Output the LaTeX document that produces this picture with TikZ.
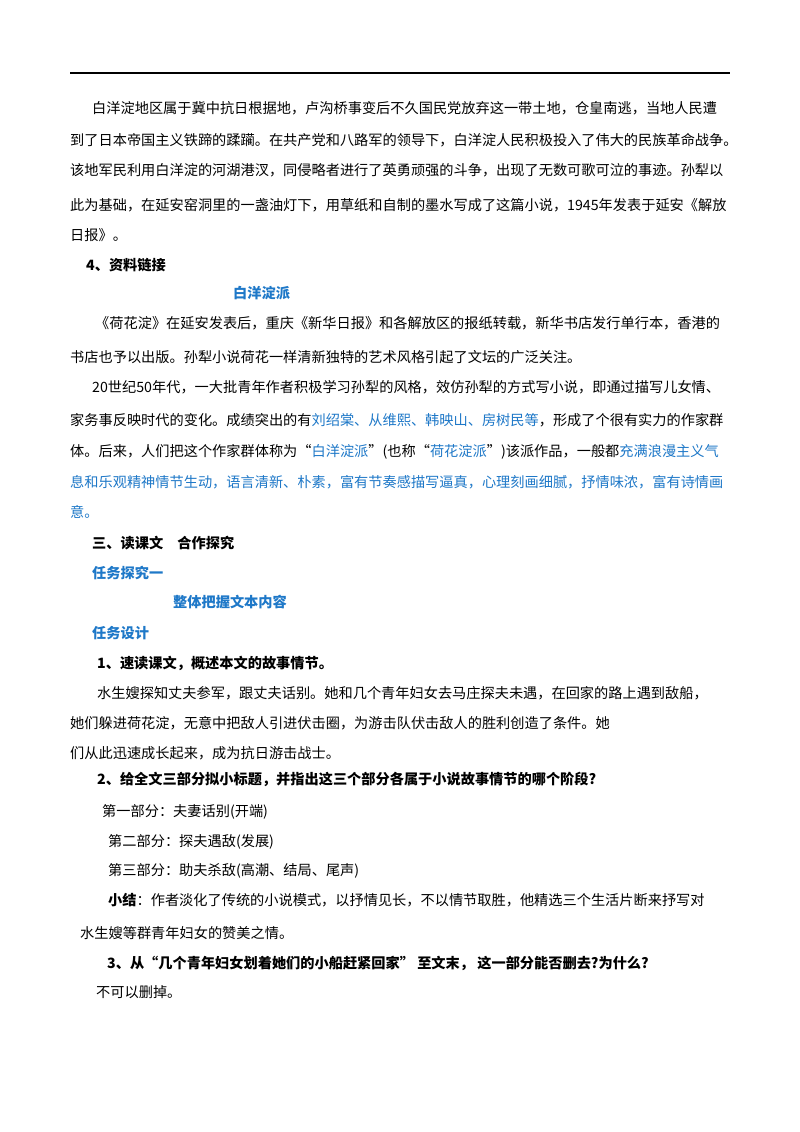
\documentclass[tikz,border=0pt]{standalone}
\usepackage{fontspec}
\setmainfont{Noto Sans CJK SC}
\definecolor{linkblue}{RGB}{30,120,200}
\tikzset{
  txt/.style={anchor=west, inner sep=0pt, font=\fontsize{14.2}{16}\selectfont},
  head/.style={txt, font=\fontsize{14.2}{16}\selectfont\bfseries},
  bluehead/.style={head, text=linkblue}
}
\begin{document}
\begin{tikzpicture}[x=1pt,y=-1pt]
        % page frame
        \useasboundingbox (0,0) rectangle (800,1132);
        \fill[white] (0,0) rectangle (800,1132);
        \draw[line width=1.3pt] (70,73) -- (730,73);

        % background paragraph
        \node[txt] (p1a) at (92,108) {白洋淀地区属于冀中抗日根据地，卢沟桥事变后不久国民党放弃这一带土地，仓皇南逃，当地人民遭};
        \node[txt] (p1b) at (70,140) {到了日本帝国主义铁蹄的蹂躏。在共产党和八路军的领导下，白洋淀人民积极投入了伟大的民族革命战争。};
        \node[txt] (p1c) at (70,170) {该地军民利用白洋淀的河湖港汊，同侵略者进行了英勇顽强的斗争，出现了无数可歌可泣的事迹。孙犁以};
        \node[txt] (p1d) at (70,205) {此为基础，在延安窑洞里的一盏油灯下，用草纸和自制的墨水写成了这篇小说，1945年发表于延安《解放};
        \node[txt] (p1e) at (70,235) {日报》。};

        % material link
        \node[head] (link) at (86,265) {4、资料链接};
        \node[bluehead] (school) at (233,293) {白洋淀派};
        \node[txt] (p2a) at (95,323) {《荷花淀》在延安发表后，重庆《新华日报》和各解放区的报纸转载，新华书店发行单行本，香港的};
        \node[txt] (p2b) at (70,357) {书店也予以出版。孙犁小说荷花一样清新独特的艺术风格引起了文坛的广泛关注。};
        \node[txt] (p3a) at (92,387) {20世纪50年代，一大批青年作者积极学习孙犁的风格，效仿孙犁的方式写小说，即通过描写儿女情、};
        \node[txt] (p3b) at (70,420) {家务事反映时代的变化。成绩突出的有\textcolor{linkblue}{刘绍棠、从维熙、韩映山、房树民等}，形成了个很有实力的作家群};
        \node[txt] (p3c) at (70,452) {体。后来，人们把这个作家群体称为“\textcolor{linkblue}{白洋淀派}”(也称“\textcolor{linkblue}{荷花淀派}”)该派作品，一般都\textcolor{linkblue}{充满浪漫主义气}};
        \node[txt, text=linkblue] (p3d) at (70,482) {息和乐观精神情节生动，语言清新、朴素，富有节奏感描写逼真，心理刻画细腻，抒情味浓，富有诗情画};
        \node[txt, text=linkblue] (p3e) at (70,512) {意。};

        % reading section
        \node[head] (read) at (92,543) {三、读课文\quad 合作探究};
        \node[bluehead] (task) at (92,573) {任务探究一};
        \node[bluehead] (whole) at (173,602) {整体把握文本内容};
        \node[bluehead] (design) at (92,633) {任务设计};
        \node[head] (q1) at (97,663) {1、速读课文，概述本文的故事情节。};
        \node[txt] (a1a) at (97,693) {水生嫂探知丈夫参军，跟丈夫话别。她和几个青年妇女去马庄探夫未遇，在回家的路上遇到敌船，};
        \node[txt] (a1b) at (70,723) {她们躲进荷花淀，无意中把敌人引进伏击圈，为游击队伏击敌人的胜利创造了条件。她};
        \node[txt] (a1c) at (70,753) {们从此迅速成长起来，成为抗日游击战士。};
        \node[head] (q2) at (97,779) {2、给全文三部分拟小标题，并指出这三个部分各属于小说故事情节的哪个阶段?};
        \node[txt] (part1) at (102,812) {第一部分：夫妻话别(开端)};
        \node[txt] (part2) at (108,842) {第二部分：探夫遇敌(发展)};
        \node[txt] (part3) at (108,871) {第三部分：助夫杀敌(高潮、结局、尾声)};
        \node[txt] (sum1) at (108,900) {\textbf{小结}：作者淡化了传统的小说模式，以抒情见长，不以情节取胜，他精选三个生活片断来抒写对};
        \node[txt] (sum2) at (80,933) {水生嫂等群青年妇女的赞美之情。};
        \node[head] (q3) at (107,963) {3、从“几个青年妇女划着她们的小船赶紧回家” 至文末， 这一部分能否删去?为什么?};
        \node[txt] (a3) at (96,992) {不可以删掉。};
\end{tikzpicture}
\end{document}
